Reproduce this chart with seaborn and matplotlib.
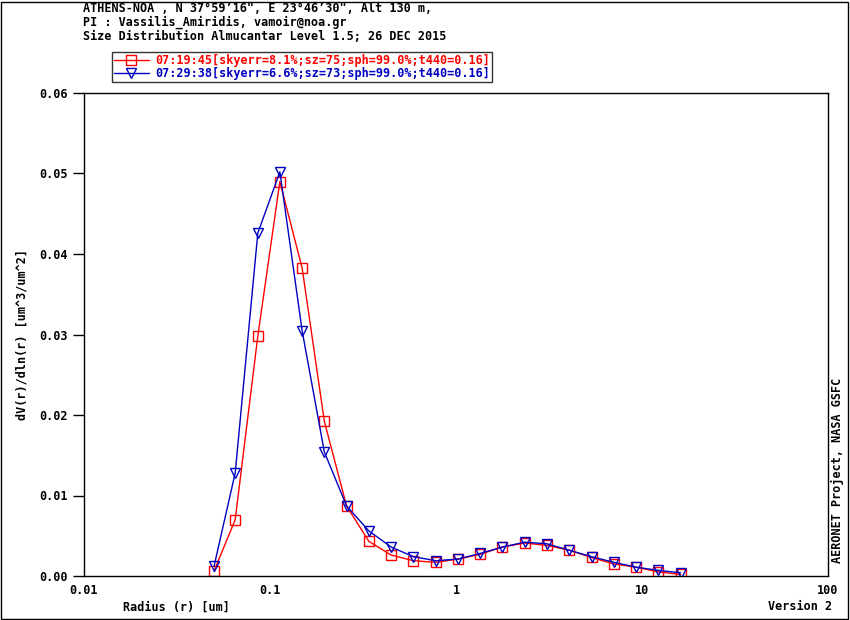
import numpy as np
import pandas as pd
import matplotlib
matplotlib.use("Agg")
import matplotlib.pyplot as plt
import seaborn as sns
from matplotlib.patches import Rectangle

# radius bins (um) and dV/dlnr values
radius = [0.050, 0.065, 0.086, 0.113, 0.149, 0.196, 0.258, 0.340, 0.448, 0.590, 0.777,
          1.024, 1.349, 1.777, 2.341, 3.084, 4.063, 5.354, 7.054, 9.293, 12.243, 16.13]
dv_0719 = [0.0006, 0.0070, 0.0298, 0.0490, 0.0382, 0.0192, 0.0087, 0.0043, 0.0026, 0.0019, 0.0017,
           0.0021, 0.0027, 0.0036, 0.0041, 0.0038, 0.0032, 0.0023, 0.0015, 0.0011, 0.0005, 0.0002]
dv_0729 = [0.0012, 0.0128, 0.0426, 0.0502, 0.0304, 0.0154, 0.0087, 0.0056, 0.0036, 0.0024, 0.0019,
           0.0021, 0.0028, 0.0036, 0.0042, 0.0040, 0.0032, 0.0024, 0.0017, 0.0011, 0.0007, 0.0004]
labels = ["07:19:45[skyerr=8.1%;sz=75;sph=99.0%;t440=0.16]",
          "07:29:38[skyerr=6.6%;sz=73;sph=99.0%;t440=0.16]"]
title_lines = ["ATHENS-NOA , N 37\u00b059\u201916\", E 23\u00b046\u201930\", Alt 130 m,",
               "PI : Vassilis_Amiridis, vamoir@noa.gr",
               "Size Distribution Almucantar Level 1.5; 26 DEC 2015"]
colors = ["#ff0000", "#0000c0"]

sns.set_style("white")
plt.rcParams['font.family'] = ['DejaVu Sans Mono']
plt.rcParams['font.weight'] = 'bold'
plt.rcParams['axes.labelweight'] = 'bold'
plt.rcParams['font.size'] = 8.5
for k in ['text.color', 'axes.labelcolor', 'xtick.color', 'ytick.color', 'axes.edgecolor']:
    plt.rcParams[k] = 'black'

df = pd.DataFrame({
    "radius": radius * 2,
    "dv": dv_0719 + dv_0729,
    "series": [labels[0]] * len(radius) + [labels[1]] * len(radius),
})

fig = plt.figure(figsize=(8.5, 6.2), dpi=100)
ax = fig.add_axes([84 / 850, 1 - 576 / 620, (828 - 84) / 850, (576 - 93) / 620])

sns.lineplot(data=df, x="radius", y="dv", hue="series", style="series",
             palette=colors, markers=["s", "v"], dashes=False,
             markersize=7, markeredgewidth=1.0,
             linewidth=1.0, ax=ax, legend=False)
# open markers need edge colours per line
for line, c in zip(ax.get_lines(), colors):
    line.set_markeredgecolor(c)
    line.set_markerfacecolor("none")

ax.set_xscale("log")
ax.set_xlim(0.01, 100)
ax.set_ylim(0, 0.06)
ax.set_xticks([0.01, 0.1, 1, 10, 100])
ax.set_xticklabels(["0.01", "0.1", "1", "10", "100"])
ax.xaxis.set_minor_locator(matplotlib.ticker.NullLocator())
ax.set_yticks(np.arange(0, 0.061, 0.01))
ax.set_yticklabels([f"{v:.2f}" for v in np.arange(0, 0.061, 0.01)])
ax.tick_params(axis="x", direction="in", length=10, width=1, pad=6)
ax.tick_params(axis="y", direction="out", length=8, width=1, left=True)
for s in ax.spines.values():
    s.set_color("black")
    s.set_linewidth(1)
ax.set_xlabel("")
ax.set_ylabel("dV(r)/dln(r) [um^3/um^2]", labelpad=8)

fig.text(123 / 850, 1 - 607 / 620, "Radius (r) [um]", va="center")
fig.text(768 / 850, 1 - 607 / 620, "Version 2", va="center")
fig.text(838 / 850, 1 - 470 / 620, "AERONET Project, NASA GSFC", rotation=90,
         va="center", ha="center")
for i, t in enumerate(title_lines):
    fig.text(83 / 850, 1 - (9 + 13.5 * i) / 620, t, va="center")

handles = [plt.Line2D([], [], color=c, marker=m, markersize=7, markerfacecolor="none",
                      markeredgecolor=c, linewidth=1)
           for c, m in zip(colors, ["s", "v"])]
leg = fig.legend(handles, labels, loc="upper left", bbox_to_anchor=(112 / 850, 1 - 52 / 620),
                 frameon=True, fancybox=False, edgecolor="black", labelcolor="linecolor",
                 handlelength=3, borderpad=0.15, labelspacing=0.05, handletextpad=0.5,
                 borderaxespad=0)
leg.get_frame().set_linewidth(1)

fig.patches.append(Rectangle((1 / 850, 1 / 620), 847 / 850, 617 / 620, transform=fig.transFigure,
                             fill=False, edgecolor="black", linewidth=1))

fig.savefig("out.png", dpi=100)
